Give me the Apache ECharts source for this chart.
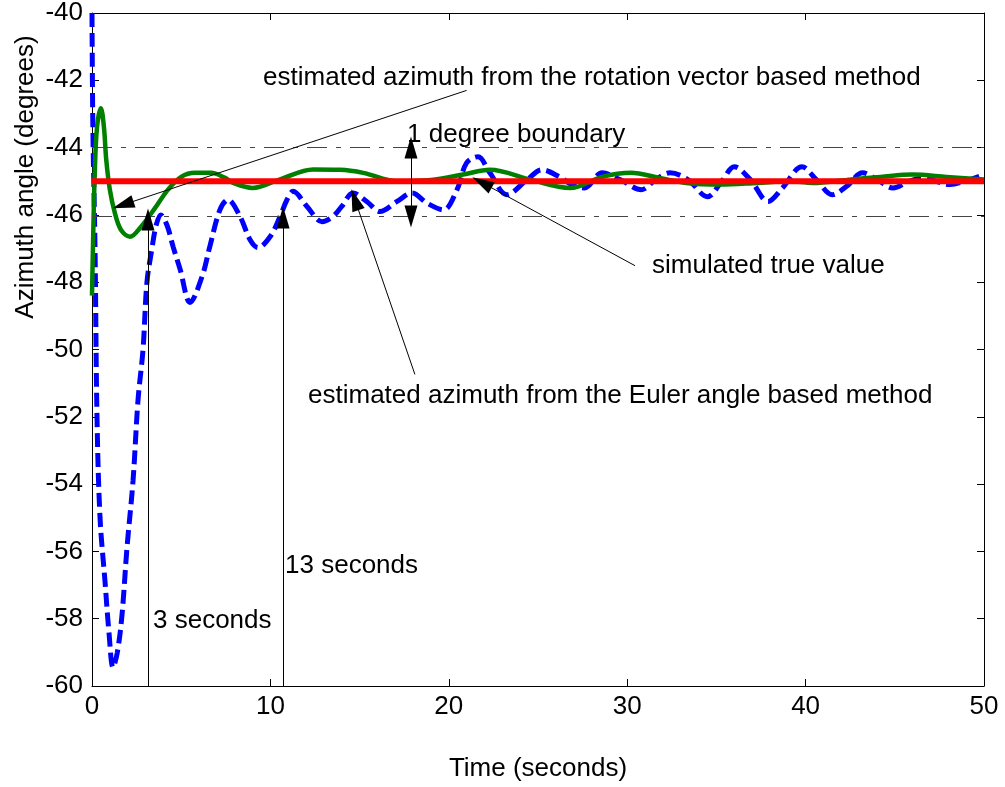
<!DOCTYPE html>
<html>
<head>
<meta charset="utf-8">
<script src="https://cdn.jsdelivr.net/npm/echarts@6/dist/echarts.min.js"></script>
<style>
html,body{margin:0;padding:0;background:#fff;}
#chart{width:1005px;height:787px;}
</style>
</head>
<body>
<div id="chart"></div>
<script>
// ---- data ----
const xTicks = [0, 10, 20, 30, 40, 50];
const yTicks = [-60, -58, -56, -54, -52, -50, -48, -46, -44, -42, -40];

// Euler angle based method (blue dashed)
const eulerT = [0, 0.05, 0.17, 0.28, 0.45, 0.73, 0.95, 1.18, 1.42, 1.68, 1.96, 2.3, 2.58, 2.86, 3.08, 3.36, 3.6, 3.85, 4.2, 4.55, 4.93, 5.5, 6.17, 6.6, 7.17, 7.62, 8.3, 8.86, 9.3, 9.98, 10.54, 10.93, 11.27, 12.05, 12.9, 13.5, 14.0, 14.63, 15.4, 16.14, 17.1, 17.94, 18.78, 19.7, 20.46, 21.0, 21.64, 22.3, 23.26, 24.38, 25.22, 26.2, 26.96, 27.6, 28.6, 29.6, 30.8, 31.6, 32.4, 33.4, 34.5, 35.3, 36.0, 36.9, 37.9, 38.7, 39.8, 40.6, 41.5, 42.3, 43.2, 44.0, 44.9, 45.8, 46.6, 47.3, 48.1, 48.9, 50];
const eulerY = [-40, -43.5, -47.0, -52.0, -55.0, -56.9, -58.4, -59.45, -59.0, -57.9, -55.9, -53.9, -51.5, -50.0, -48.0, -47.0, -46.3, -46.0, -46.3, -46.95, -47.6, -48.6, -47.83, -46.95, -45.85, -45.55, -46.05, -46.74, -46.97, -46.65, -46.05, -45.55, -45.3, -45.75, -46.2, -46.05, -45.75, -45.35, -45.6, -45.9, -45.6, -45.35, -45.65, -45.85, -45.25, -44.45, -44.27, -44.75, -45.4, -44.96, -44.66, -44.87, -45.12, -45.2, -44.75, -44.95, -45.25, -44.95, -44.75, -44.95, -45.46, -45.0, -44.57, -44.95, -45.6, -45.2, -44.57, -44.95, -45.4, -45.15, -44.75, -44.95, -45.2, -45.0, -44.9, -45.0, -45.1, -45.0, -44.8];

// Rotation vector based method (green solid)
const rotT = [0, 0.06, 0.15, 0.28, 0.5, 0.67, 0.8, 1.0, 1.28, 1.63, 2.13, 2.75, 3.53, 4.26, 5.0, 5.77, 6.67, 7.46, 7.9, 9.0, 10.5, 12.4, 13.9, 15.2, 17.1, 19.0, 20.8, 22.3, 24.6, 26.8, 28.6, 30.2, 31.8, 33.3, 35.2, 37.3, 39.1, 40.4, 42.3, 44.2, 46.0, 47.9, 50];
const rotY = [-48.4, -46.8, -44.85, -43.4, -42.83, -43.4, -44.37, -45.25, -45.94, -46.45, -46.65, -46.35, -45.8, -45.25, -44.87, -44.75, -44.75, -44.9, -45.05, -45.2, -44.95, -44.65, -44.66, -44.75, -45.0, -44.96, -44.8, -44.66, -44.96, -45.2, -44.87, -44.75, -44.9, -45.05, -45.1, -45.05, -45.0, -45.05, -44.96, -44.87, -44.8, -44.87, -44.95];

// simulated true value (red)
const trueT = [0, 50];
const trueY = [-45, -45];

// 1 degree boundary
const boundUpper = -44;
const boundLower = -46.05;

// annotation texts and anchor points (data units)
const annTexts = [
  {text: 'estimated azimuth from the rotation vector based method', t: 9.59, y: -41.93},
  {text: '1 degree boundary', t: 17.66, y: -43.62},
  {text: 'simulated true value', t: 31.39, y: -47.51},
  {text: 'estimated azimuth from the Euler angle based method', t: 12.11, y: -51.39},
  {text: '13 seconds', t: 10.82, y: -56.44},
  {text: '3 seconds', t: 3.42, y: -58.07}
];
// arrows: [fromT, fromY, toT, toY, doubleHead]
const annArrows = [
  [21.0, -42.3, 1.74, -45.70, false],
  [30.44, -47.51, 21.86, -45.04, false],
  [18.1, -50.74, 14.74, -45.55, false],
  [3.14, -60, 3.14, -46.14, false],
  [10.71, -60, 10.71, -46.08, false],
  [17.88, -44.0, 17.88, -46.05, true]
];

const FONT = 'Liberation Sans, Arial, Helvetica, sans-serif';
const FS = 26;
const zip = (a, b) => a.map((v, i) => [v, b[i]]);

const chart = echarts.init(document.getElementById('chart'), null, {renderer: 'canvas'});

const axisCommon = {
  type: 'value',
  axisLine: {show: true, onZero: false, lineStyle: {color: '#000', width: 1}},
  axisTick: {show: true, inside: true, length: 7, lineStyle: {color: '#000', width: 1}},
  splitLine: {show: false}
};

const option = {
  animation: false,
  backgroundColor: '#fff',
  grid: {left: 92, right: 21, top: 13, bottom: 100, show: false, containLabel: false},
  xAxis: [
    Object.assign({}, axisCommon, {
      min: 0, max: 50, interval: 10, position: 'bottom',
      name: 'Time (seconds)', nameLocation: 'middle', nameGap: 70,
      nameTextStyle: {fontFamily: FONT, fontSize: FS, color: '#000'},
      axisLabel: {fontFamily: FONT, fontSize: FS, color: '#000', margin: 8,
        formatter: v => xTicks.includes(v) ? String(v) : ''}
    }),
    Object.assign({}, axisCommon, {
      min: 0, max: 50, interval: 10, position: 'top', axisLabel: {show: false}
    })
  ],
  yAxis: [
    Object.assign({}, axisCommon, {
      min: -60, max: -40, interval: 2, position: 'left',
      axisLabel: {fontFamily: FONT, fontSize: FS, color: '#000', margin: 9,
        formatter: v => yTicks.includes(v) ? String(v) : ''}
    }),
    Object.assign({}, axisCommon, {
      min: -60, max: -40, interval: 2, position: 'right', axisLabel: {show: false}
    })
  ],
  graphic: [
    {
      type: 'text', x: 26, y: 177, rotation: Math.PI / 2,
      style: {text: 'Azimuth angle (degrees)', font: FS + 'px ' + FONT, fill: '#000',
        textAlign: 'center', textVerticalAlign: 'middle'}
    }
  ],
  series: [
    {
      name: 'bounds', type: 'line', data: [], silent: true,
      markLine: {
        silent: true, symbol: ['none', 'none'], animation: false,
        label: {show: false},
        lineStyle: {color: '#444', width: 1, type: [20, 9, 5, 9]},
        data: [
          [{coord: [0, boundUpper]}, {coord: [50, boundUpper]}],
          [{coord: [0, boundLower]}, {coord: [50, boundLower]}]
        ]
      }
    },
    {
      name: 'Euler', type: 'line', data: zip(eulerT, eulerY), showSymbol: false,
      smooth: 0.35, silent: true,
      lineStyle: {color: '#0000ff', width: 5, type: [14, 6]}
    },
    {
      name: 'Rotation', type: 'line', data: zip(rotT, rotY), showSymbol: false,
      smooth: 0.35, silent: true,
      lineStyle: {color: '#008000', width: 4.5}
    },
    {
      name: 'True', type: 'line', data: zip(trueT, trueY), showSymbol: false,
      silent: true, lineStyle: {color: '#ff0000', width: 6}
    },
    {
      name: 'annotations', type: 'line', data: [], silent: true,
      markLine: {
        silent: true, animation: false,
        label: {show: false},
        symbolSize: [13, 22],
        lineStyle: {color: '#000', width: 1, type: 'solid'},
        itemStyle: {color: '#000'},
        data: annArrows.map(a => [
          {coord: [a[0], a[1]], symbol: a[4] ? 'triangle' : 'none'},
          {coord: [a[2], a[3]], symbol: 'triangle'}
        ])
      },
      markPoint: {
        silent: true, animation: false,
        symbol: 'circle', symbolSize: 0,
        itemStyle: {color: 'rgba(0,0,0,0)'},
        label: {show: true, position: 'right', distance: 0, color: '#000',
          fontFamily: FONT, fontSize: FS, formatter: p => p.name},
        data: annTexts.map(a => ({name: a.text, coord: [a.t, a.y]}))
      }
    }
  ]
};
chart.setOption(option);
</script>
</body>
</html>
